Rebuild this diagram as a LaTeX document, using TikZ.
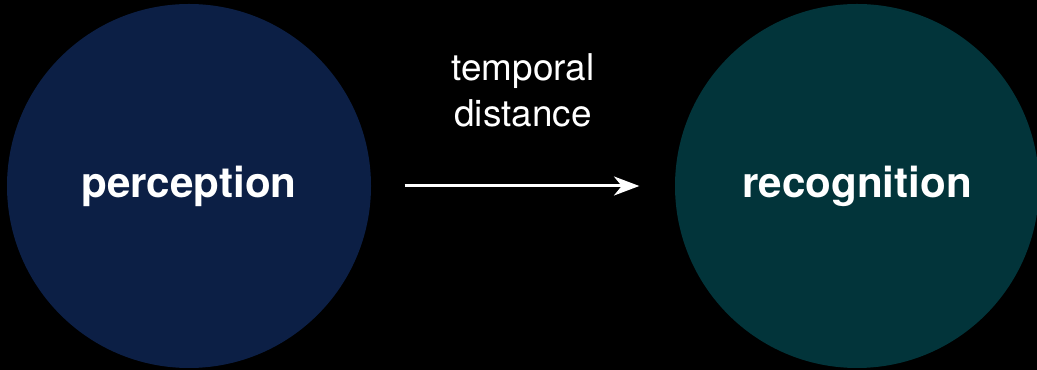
\documentclass[tikz,border=0pt]{standalone}
\usepackage{fontspec}
\setmainfont{TeX Gyre Heros}
\usetikzlibrary{positioning,arrows.meta}
\definecolor{cPerc}{HTML}{0C1F45}
\definecolor{cReco}{HTML}{02343A}
\definecolor{cBg}{HTML}{000000}
\tikzset{
  blob/.style={circle, minimum size=3.64cm, inner sep=0pt, draw=none,
               text=white, font=\fontsize{12}{14}\selectfont\bfseries},
  perc/.style={blob, fill=cPerc},
  reco/.style={blob, fill=cReco},
  ar/.style={-{Stealth[length=7.2pt, width=5.4pt, inset=2.2pt]}, line width=0.85pt, white,
             shorten <=0.33cm, shorten >=0.35cm},
  lbl/.style={font=\fontsize{10.5}{13.1}\selectfont, text=white, align=center, inner sep=0pt},
}

\begin{document}
\begin{tikzpicture}
    \fill[cBg] (0,0) rectangle (10.37,3.70);
    \useasboundingbox (0,0) rectangle (10.37,3.70);

    \node[perc] (pcp) at (1.89,1.84) {perception};
    \node[reco] (rcg) at (8.57,1.84) {recognition};

    \draw[ar] (pcp) -- node[lbl, above=0.57cm] {temporal\\distance} (rcg);
  \end{tikzpicture}
\end{document}
